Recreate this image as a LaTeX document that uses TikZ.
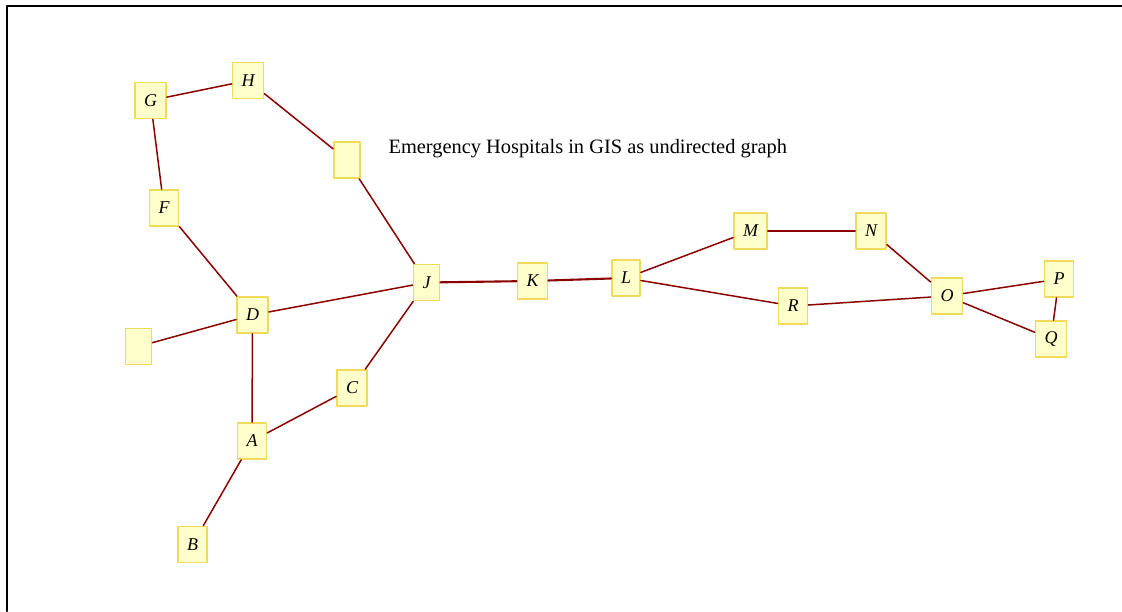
\documentclass[tikz,border=0pt]{standalone}
\usepackage{fontspec}
\setmainfont{Liberation Serif}
\usepackage{tikz}
\usetikzlibrary{positioning}

\definecolor{hospfill}{HTML}{FFFFCC}
\definecolor{hospline}{HTML}{F0DA5C}
\definecolor{roadred}{HTML}{8B0000}

\begin{document}
\begin{tikzpicture}[x=1pt, y=-1pt, line cap=round, line join=round,
  hosp/.style={draw=hospline, fill=hospfill, line width=1.8pt, rectangle,
    minimum width=26pt, minimum height=36pt, inner xsep=9pt,
    font=\fontsize{18}{20}\selectfont\itshape},
  road/.style={draw=roadred, line width=1.5pt},
  mainroad/.style={draw=roadred, line width=2.1pt}]
  \useasboundingbox (0,0) rectangle (1122,611);

  % Frame (top and left only)
  \draw[line width=2.2pt] (1122,6) -- (7,6) -- (7,611);

  % Title
  \node[anchor=west, font=\fontsize{20.4}{23}\selectfont] (title) at (385,149)
    {Emergency Hospitals in GIS as undirected graph};

  % Hospitals
  \node[hosp] (G) at (150.5,100.5) {G};
  \node[hosp] (H) at (248,80.5) {H};
  \node[hosp] (X1) at (347,160) {};
  \node[hosp] (F) at (164,208) {F};
  \node[hosp] (D) at (252.5,315) {D};
  \node[hosp] (X2) at (138.5,346.5) {};
  \node[hosp] (J) at (426.5,282.5) {J};
  \node[hosp] (C) at (352,388) {C};
  \node[hosp] (A) at (252,441) {A};
  \node[hosp] (B) at (192.5,544.5) {B};
  \node[hosp] (K) at (532.5,281) {K};
  \node[hosp] (L) at (626,278) {L};
  \node[hosp] (M) at (750.5,231) {M};
  \node[hosp] (N) at (871,231) {N};
  \node[hosp] (R) at (793,306) {R};
  \node[hosp] (O) at (947,296) {O};
  \node[hosp] (P) at (1059,279) {P};
  \node[hosp] (Q) at (1051,339) {Q};

  % Roads
  \draw[road] (G) -- (H);
  \draw[road] (H) -- (X1);
  \draw[road] (X1) -- (J);
  \draw[road] (G) -- (F);
  \draw[road] (F) -- (D);
  \draw[road] (D) -- (J);
  \draw[road] (D) -- (X2);
  \draw[road] (D) -- (A);
  \draw[road] (A) -- (C);
  \draw[road] (C) -- (J);
  \draw[road] (A) -- (B);
  \draw[mainroad] (J) -- (K);
  \draw[mainroad] (K) -- (L);
  \draw[road] (L) -- (M);
  \draw[road] (L) -- (R);
  \draw[road] (M) -- (N);
  \draw[road] (N) -- (O);
  \draw[road] (R) -- (O);
  \draw[road] (O) -- (P);
  \draw[road] (O) -- (Q);
  \draw[road] (P) -- (Q);
\end{tikzpicture}
\end{document}
